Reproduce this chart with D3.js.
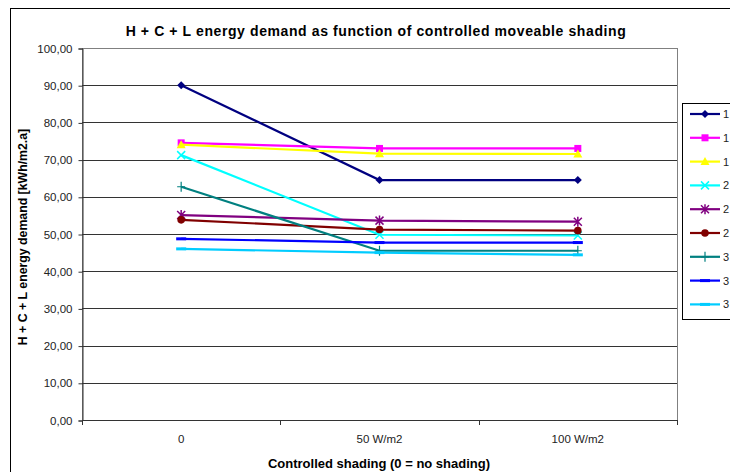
<!DOCTYPE html>
<html>
<head>
<meta charset="utf-8">
<script src="https://cdn.jsdelivr.net/npm/d3@7"></script>
<style>
  body { margin: 0; background: #fff; }
  svg { display: block; font-family: "Liberation Sans", Arial, sans-serif; }
</style>
</head>
<body>
<svg id="chart" width="730" height="472"></svg>
<script>
"use strict";

// categories on the x axis
var categories = ["0", "50 W/m2", "100 W/m2"];

// series names (only the first character shows, the rest is cut off by the chart edge)
var seriesNames = ["1", "1", "1", "2", "2", "2", "3", "3", "3"];

// values per series, one per category
var s1 = [90.0, 64.5, 64.5];
var s2 = [74.5, 73.0, 73.0];
var s3 = [74.0, 71.6, 71.5];
var s4 = [71.2, 49.8, 49.6];
var s5 = [55.1, 53.6, 53.3];
var s6 = [53.8, 51.2, 50.9];
var s7 = [62.7, 45.5, 45.5];
var s8 = [48.7, 47.7, 47.7];
var s9 = [46.0, 45.0, 44.4];

var yTicks = [0, 10, 20, 30, 40, 50, 60, 70, 80, 90, 100];

var colors = ["#000080", "#ff00ff", "#ffff00", "#00ffff", "#800080", "#800000", "#008080", "#0000ff", "#00ccff"];
var markers = ["diamond", "square", "triangle", "x", "star", "circle", "plus", "dash", "dash"];

var allSeries = [s1, s2, s3, s4, s5, s6, s7, s8, s9].map(function(v, i) {
    return { name: seriesNames[i], values: v, color: colors[i], marker: markers[i] };
});

var svg = d3.select("#chart");

// outer chart border (runs off right and bottom edge like the source)
svg.append("rect")
  .attr("x", 10.5).attr("y", 8.5)
  .attr("width", 740).attr("height", 480)
  .attr("fill", "#fff").attr("stroke", "#000").attr("stroke-width", 1);

var plot = { left: 82, top: 48, right: 677, bottom: 420 };

var x = d3.scaleBand().domain(categories).range([plot.left, plot.right]);
var y = d3.scaleLinear().domain([0, 100]).range([plot.bottom, plot.top]);

// plot area border
svg.append("rect")
  .attr("x", plot.left + 0.5).attr("y", plot.top + 0.5)
  .attr("width", plot.right - plot.left).attr("height", plot.bottom - plot.top)
  .attr("fill", "none").attr("stroke", "#808080");

// gridlines
svg.append("g").selectAll("line")
  .data(yTicks.slice(1))
  .enter().append("line")
  .attr("x1", plot.left).attr("x2", plot.right)
  .attr("y1", function(d) { return Math.round(y(d)) + 0.5; })
  .attr("y2", function(d) { return Math.round(y(d)) + 0.5; })
  .attr("stroke", function(d) { return d === 100 ? "#808080" : "#333"; })
  .attr("stroke-width", 1);

// y axis
var yAxis = d3.axisLeft(y).tickValues(yTicks).tickSize(4).tickPadding(6)
  .tickFormat(function(d) { return d3.format(".2f")(d).replace(".", ","); });
var gy = svg.append("g").attr("transform", "translate(" + (plot.left + 0.5) + ",0.5)").call(yAxis);
gy.select(".domain").attr("stroke", "#333");
gy.selectAll(".tick line").attr("stroke", "#333");
gy.selectAll("text").attr("font-size", 11.5).attr("fill", "#222").attr("font-family", "Liberation Sans, Arial, sans-serif");

// x axis: ticks at band boundaries
svg.append("line")
  .attr("x1", plot.left).attr("x2", plot.right)
  .attr("y1", plot.bottom + 0.5).attr("y2", plot.bottom + 0.5)
  .attr("stroke", "#333");
var bounds = categories.map(function(c) { return x(c); }).concat([plot.right]);
svg.append("g").selectAll("line")
  .data(bounds)
  .enter().append("line")
  .attr("x1", function(d) { return Math.round(d) + 0.5; })
  .attr("x2", function(d) { return Math.round(d) + 0.5; })
  .attr("y1", plot.bottom).attr("y2", plot.bottom + 5)
  .attr("stroke", "#333");
svg.append("g").selectAll("text")
  .data(categories)
  .enter().append("text")
  .attr("x", function(d) { return x(d) + x.bandwidth() / 2; })
  .attr("y", 443)
  .attr("text-anchor", "middle")
  .attr("font-size", 11.5).attr("fill", "#222")
  .text(function(d) { return d; });

// titles
svg.append("text")
  .attr("x", 376).attr("y", 36)
  .attr("text-anchor", "middle")
  .attr("font-size", 14).attr("font-weight", "bold")
  .attr("letter-spacing", 0.6)
  .text("H + C + L energy demand as function of controlled moveable shading");

svg.append("text")
  .attr("x", 379).attr("y", 468)
  .attr("text-anchor", "middle")
  .attr("font-size", 13).attr("font-weight", "bold")
  .text("Controlled shading (0 = no shading)");

svg.append("text")
  .attr("transform", "translate(27,237) rotate(-90)")
  .attr("text-anchor", "middle")
  .attr("font-size", 12.3).attr("font-weight", "bold")
  .text("H + C + L energy demand [kWh/m2.a]");

// marker drawing helper
var drawMarker = function(g, type, color, cx, cy) {
    if (type === "diamond") {
        g.append("path").attr("d", "M" + cx + "," + (cy - 4) + "L" + (cx + 4) + "," + cy + "L" + cx + "," + (cy + 4) + "L" + (cx - 4) + "," + cy + "Z").attr("fill", color);
    } else if (type === "square") {
        g.append("rect").attr("x", cx - 3.5).attr("y", cy - 3.5).attr("width", 7).attr("height", 7).attr("fill", color);
    } else if (type === "triangle") {
        g.append("path").attr("d", "M" + cx + "," + (cy - 4.5) + "L" + (cx + 4.5) + "," + (cy + 3.5) + "L" + (cx - 4.5) + "," + (cy + 3.5) + "Z").attr("fill", color);
    } else if (type === "x") {
        g.append("path").attr("d", "M" + (cx - 4) + "," + (cy - 4) + "L" + (cx + 4) + "," + (cy + 4) + "M" + (cx + 4) + "," + (cy - 4) + "L" + (cx - 4) + "," + (cy + 4)).attr("stroke", color).attr("stroke-width", 1.5);
    } else if (type === "star") {
        g.append("path").attr("d", "M" + (cx - 4) + "," + (cy - 4) + "L" + (cx + 4) + "," + (cy + 4) + "M" + (cx + 4) + "," + (cy - 4) + "L" + (cx - 4) + "," + (cy + 4) + "M" + cx + "," + (cy - 5) + "L" + cx + "," + (cy + 5)).attr("stroke", color).attr("stroke-width", 1.5);
    } else if (type === "circle") {
        g.append("circle").attr("cx", cx).attr("cy", cy).attr("r", 3.8).attr("fill", color);
    } else if (type === "plus") {
        g.append("path").attr("d", "M" + (cx - 4) + "," + cy + "L" + (cx + 4) + "," + cy + "M" + cx + "," + (cy - 5) + "L" + cx + "," + (cy + 5)).attr("stroke", color).attr("stroke-width", 1.2);
    } else if (type === "dash") {
        g.append("path").attr("d", "M" + (cx - 5) + "," + cy + "L" + (cx + 5) + "," + cy).attr("stroke", color).attr("stroke-width", 3);
    }
};

// series lines and markers
var line = d3.line()
  .x(function(d, i) { return x(categories[i]) + x.bandwidth() / 2; })
  .y(function(d) { return y(d); });

var seriesG = svg.append("g");
allSeries.forEach(function(s) {
    var g = seriesG.append("g");
    g.append("path")
      .attr("d", line(s.values))
      .attr("fill", "none")
      .attr("stroke", s.color)
      .attr("stroke-width", 2.2);
    s.values.forEach(function(v, i) {
        drawMarker(g, s.marker, s.color, x(categories[i]) + x.bandwidth() / 2, y(v));
    });
});

// legend
var legend = svg.append("g");
legend.append("rect")
  .attr("x", 682.5).attr("y", 103.5)
  .attr("width", 80).attr("height", 216)
  .attr("fill", "#fff").attr("stroke", "#000");
allSeries.forEach(function(s, i) {
    var ly = 114 + i * 23.8;
    legend.append("line")
      .attr("x1", 690).attr("x2", 720)
      .attr("y1", ly).attr("y2", ly)
      .attr("stroke", s.color).attr("stroke-width", 2.2);
    drawMarker(legend, s.marker, s.color, 705, ly);
    legend.append("text")
      .attr("x", 723).attr("y", ly + 4)
      .attr("font-size", 11).attr("fill", "#222")
      .text(s.name);
});
</script>
</body>
</html>
